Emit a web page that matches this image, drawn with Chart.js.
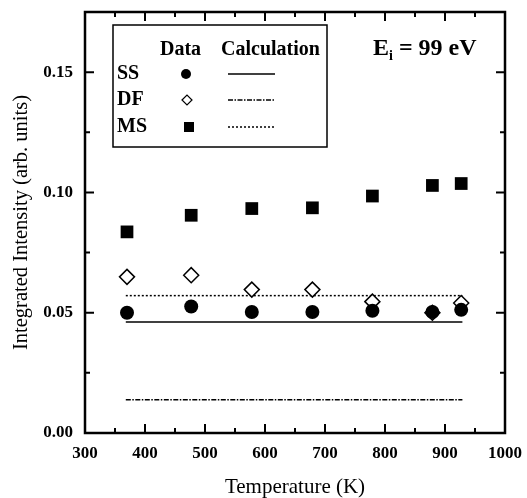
<!DOCTYPE html>
<html><head><meta charset="utf-8">
<script src="https://cdn.jsdelivr.net/npm/chart.js@4/dist/chart.umd.min.js"></script>
<style>html,body{margin:0;padding:0;background:#fff}</style>
</head><body>
<canvas id="c" width="527" height="498"></canvas>
<script>
// ---- data ----
const temperatures = [370, 477, 578, 679, 779, 879, 927];
const ssData = [0.0500, 0.0526, 0.0503, 0.0503, 0.0508, 0.0503, 0.0512];
const dfData = [0.0649, 0.0656, 0.0596, 0.0596, 0.0546, 0.0500, 0.0540];
const msData = [0.0836, 0.0905, 0.0933, 0.0936, 0.0985, 0.1029, 0.1037];
const calcTemps = [368, 929];
const ssCalc = [0.0461, 0.0461];
const dfCalc = [0.0138, 0.0138];
const msCalc = [0.0571, 0.0571];
const xTicks = [300, 400, 500, 600, 700, 800, 900, 1000];
const xMinor = [350, 450, 550, 650, 750, 850, 950];
const yTicks = [0, 0.05, 0.10, 0.15];
const yMinor = [0.025, 0.075, 0.125];
const seriesNames = ['SS', 'DF', 'MS'];
const energyLabel = ['E', 'i', ' = 99 eV'];

const FONT = '"Liberation Serif", "Times New Roman", serif';
const pts = (xs, ys) => xs.map((x, i) => ({x: x, y: ys[i]}));

const frame = {
  id: 'frame',
  afterDraw(chart) {
    const {ctx, chartArea: a, scales: {x, y}} = chart;
    ctx.save();
    ctx.strokeStyle = '#000';
    ctx.lineWidth = 2.5;
    ctx.strokeRect(a.left, a.top, a.right - a.left, a.bottom - a.top);
    ctx.lineWidth = 2;
    ctx.beginPath();
    const tx = (v, len) => {
      const p = x.getPixelForValue(v);
      ctx.moveTo(p, a.bottom); ctx.lineTo(p, a.bottom - len);
      ctx.moveTo(p, a.top); ctx.lineTo(p, a.top + len);
    };
    const ty = (v, len) => {
      const p = y.getPixelForValue(v);
      ctx.moveTo(a.left, p); ctx.lineTo(a.left + len, p);
      ctx.moveTo(a.right, p); ctx.lineTo(a.right - len, p);
    };
    xTicks.forEach(v => tx(v, 9));
    xMinor.forEach(v => tx(v, 5));
    yTicks.forEach(v => ty(v, 9));
    yMinor.forEach(v => ty(v, 5));
    ctx.stroke();

    // legend table
    ctx.lineWidth = 1.5;
    ctx.strokeRect(113, 25, 214, 122);
    ctx.fillStyle = '#000';
    ctx.font = 'bold 20px ' + FONT;
    ctx.textBaseline = 'middle';
    ctx.textAlign = 'left';
    ctx.fillText('Data', 160, 50);
    ctx.fillText('Calculation', 221, 50);
    const rows = [74, 100, 127];
    seriesNames.forEach((n, i) => ctx.fillText(n, 117, rows[i]));
    // markers
    ctx.beginPath(); ctx.arc(186, rows[0], 5, 0, Math.PI * 2); ctx.fill();
    ctx.beginPath();
    ctx.moveTo(182, rows[1]); ctx.lineTo(187, rows[1] - 5); ctx.lineTo(192, rows[1]); ctx.lineTo(187, rows[1] + 5); ctx.closePath();
    ctx.fillStyle = '#fff'; ctx.fill(); ctx.lineWidth = 1.2; ctx.stroke();
    ctx.fillStyle = '#000';
    ctx.fillRect(184, rows[2] - 5, 10, 10);
    // line samples
    ctx.lineWidth = 1.5;
    const dashes = [[], [5, 1.5, 1.5, 1.5], [2, 2]];
    rows.forEach((r, i) => {
      ctx.setLineDash(dashes[i]);
      ctx.beginPath(); ctx.moveTo(228, r); ctx.lineTo(275, r); ctx.stroke();
    });
    ctx.setLineDash([]);

    // energy label
    ctx.textBaseline = 'alphabetic';
    ctx.font = 'bold 24px ' + FONT;
    let px = 373;
    ctx.fillText(energyLabel[0], px, 55);
    px += ctx.measureText(energyLabel[0]).width;
    ctx.font = 'bold 14px ' + FONT;
    ctx.fillText(energyLabel[1], px, 60);
    px += ctx.measureText(energyLabel[1]).width;
    ctx.font = 'bold 24px ' + FONT;
    ctx.fillText(energyLabel[2], px, 55);
    ctx.restore();
  }
};

new Chart(document.getElementById('c'), {
  type: 'scatter',
  data: {
    datasets: [
      {label: 'SS', data: pts(temperatures, ssData), order: 0, pointStyle: 'circle', pointRadius: 7,
       backgroundColor: '#000', borderColor: '#000', borderWidth: 0, showLine: false},
      {label: 'DF', data: pts(temperatures, dfData), order: 1, pointStyle: 'rectRot', pointRadius: 7.5,
       backgroundColor: '#fff', borderColor: '#000', borderWidth: 1.5, showLine: false},
      {label: 'MS', data: pts(temperatures, msData), order: 2, pointStyle: 'rect', pointRadius: 9,
       backgroundColor: '#000', borderColor: '#000', borderWidth: 0, showLine: false},
      {label: 'SS calc', data: pts(calcTemps, ssCalc), order: 3, showLine: true, pointRadius: 0,
       borderColor: '#000', borderWidth: 1.5},
      {label: 'DF calc', data: pts(calcTemps, dfCalc), order: 3, showLine: true, pointRadius: 0,
       borderColor: '#000', borderWidth: 1.5, borderDash: [5, 1.5, 1.5, 1.5]},
      {label: 'MS calc', data: pts(calcTemps, msCalc), order: 3, showLine: true, pointRadius: 0,
       borderColor: '#000', borderWidth: 1.5, borderDash: [2, 2]}
    ]
  },
  options: {
    responsive: false,
    animation: false,
    devicePixelRatio: 1,
    layout: {padding: {top: 12, right: 22, left: 0, bottom: 0}},
    plugins: {legend: {display: false}, tooltip: {enabled: false}},
    scales: {
      x: {
        type: 'linear', min: 300, max: 1000,
        afterBuildTicks: s => { s.ticks = xTicks.map(v => ({value: v})); },
        afterFit: s => { s.height = 65; s.paddingLeft = 0; s.paddingRight = 0; },
        grid: {display: false, drawTicks: false},
        border: {display: false},
        ticks: {color: '#000', padding: 10, font: {family: FONT, size: 17, weight: 'bold'}, maxRotation: 0,
                callback: v => String(v)},
        title: {display: true, text: 'Temperature (K)', color: '#000', padding: {top: 0, bottom: 0},
                font: {family: FONT, size: 21, weight: 'normal', lineHeight: 1}}
      },
      y: {
        type: 'linear', min: 0, max: 0.175,
        afterBuildTicks: s => { s.ticks = yTicks.map(v => ({value: v})); },
        afterFit: s => { s.width = 85; s.paddingTop = 0; s.paddingBottom = 0; },
        grid: {display: false, drawTicks: false},
        border: {display: false},
        ticks: {color: '#000', padding: 12, font: {family: FONT, size: 17, weight: 'bold'},
                callback: v => v.toFixed(2)},
        title: {display: true, text: 'Integrated Intensity (arb. units)', color: '#000', padding: 9,
                font: {family: FONT, size: 20.5, weight: 'normal'}}
      }
    }
  },
  plugins: [frame]
});
</script>
</body></html>
